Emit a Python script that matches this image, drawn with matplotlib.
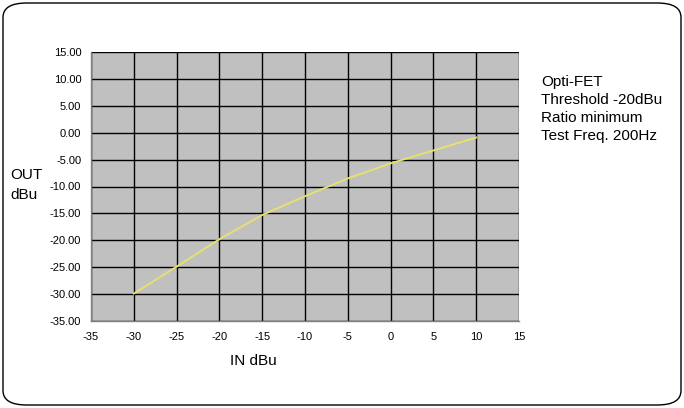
import matplotlib
matplotlib.use("Agg")
import matplotlib.pyplot as plt
from matplotlib.patches import FancyBboxPatch

plt.rcParams['font.family'] = ['Liberation Sans', 'DejaVu Sans']

# measured curve, IN dBu -> OUT dBu
in_dbu = [-30, -25, -20, -15, -10, -5, 0, 5, 10]
out_dbu = [-29.9, -24.9, -19.8, -15.3, -11.8, -8.5, -5.7, -3.3, -0.9]

x_ticks = [-35, -30, -25, -20, -15, -10, -5, 0, 5, 10, 15]
y_ticks = [15, 10, 5, 0, -5, -10, -15, -20, -25, -30, -35]
notes = ["Opti-FET", "Threshold -20dBu", "Ratio minimum", "Test Freq. 200Hz"]

fig = plt.figure(figsize=(6.84, 4.08), dpi=100)

# rounded frame around the whole chart
frame = FancyBboxPatch((3/684, 3/408), 678/684, 402/408,
                       boxstyle="round,pad=0,rounding_size=0.035",
                       transform=fig.transFigure, fill=False,
                       edgecolor='black', linewidth=1.0)
fig.patches.append(frame)

ax = fig.add_axes([91/684, 87/408, 428/684, 269/408])
ax.set_facecolor('#c0c0c0')
ax.plot(in_dbu, out_dbu, color='#e6e070', linewidth=1.4)

ax.set_xlim(-35, 15)
ax.set_ylim(-35, 15)
ax.set_xticks(x_ticks)
ax.set_yticks(y_ticks)
ax.set_xticklabels([str(v) for v in x_ticks])
ax.set_yticklabels(["%.2f" % v for v in y_ticks])
ax.grid(True, color='black', linewidth=1.0)
ax.set_axisbelow(True)

for s in ['top', 'right']:
    ax.spines[s].set_visible(False)
for s in ['left', 'bottom']:
    ax.spines[s].set_color('#808080')
    ax.spines[s].set_linewidth(1.0)
ax.tick_params(axis='both', length=0, labelsize=8, colors='black', pad=7)
ax.tick_params(axis='x', pad=8)

fig.text(10/684, 1 - 175/408, "OUT", fontsize=11, va='center', ha='left')
fig.text(10/684, 1 - 195/408, "dBu", fontsize=11, va='center', ha='left')
fig.text(253/684, 1 - 361/408, "IN dBu", fontsize=11, va='center', ha='center')

for i, line in enumerate(notes):
    fig.text(541/684, 1 - (82 + 18 * i)/408, line, fontsize=11,
             va='center', ha='left')

fig.savefig("out.png", dpi=100)
